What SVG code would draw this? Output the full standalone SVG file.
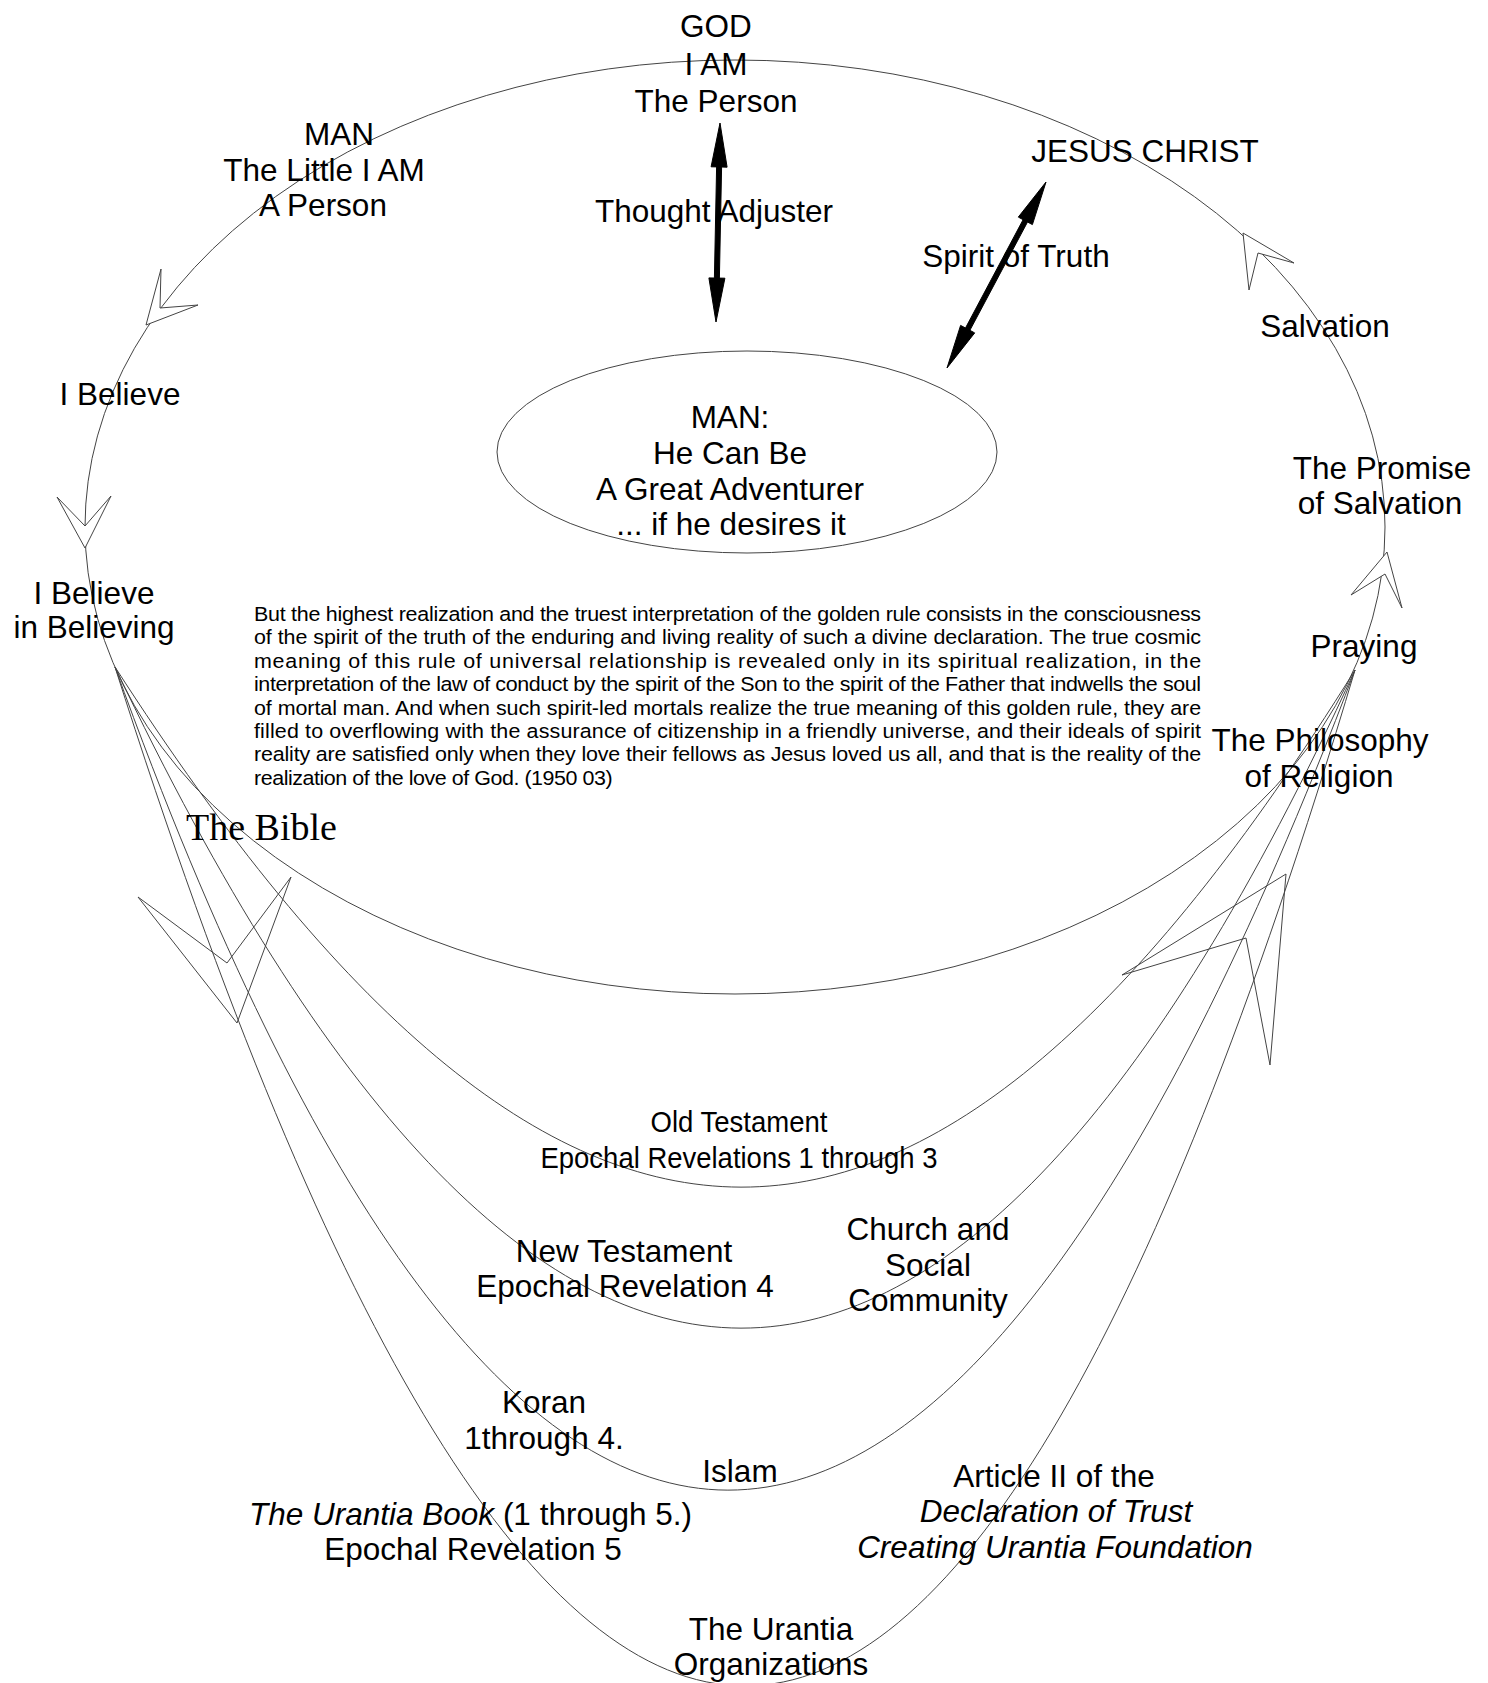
<svg xmlns="http://www.w3.org/2000/svg" width="1488" height="1683" viewBox="0 0 1488 1683">
<style>
  .bg { fill: #ffffff; }
  .thin { fill: none; stroke: #444444; stroke-width: 1; }
  .head { fill: #ffffff; stroke: #444444; stroke-width: 1; stroke-linejoin: miter; }
  .thick { fill: #000000; stroke: #000000; stroke-width: 1; }
  .lbl { font-family: "Liberation Sans", Arial, sans-serif; font-size: 31.5px; fill: #000000; text-anchor: middle; }
  .cond { font-family: "Liberation Sans", Arial, sans-serif; font-size: 29.5px; fill: #000000; text-anchor: middle; }
  .it { font-style: italic; }
  .serif { font-family: "Liberation Serif", "Times New Roman", serif; font-size: 38px; fill: #000000; }
  .para { font-family: "Liberation Sans", Arial, sans-serif; font-size: 19.5px; fill: #000000; }
</style>
<rect class="bg" x="0" y="0" width="1488" height="1683"/>

<g id="connectors">
  <!-- big outer cycle -->
  <ellipse id="cycle" class="thin" cx="735" cy="527" rx="650" ry="467"/>
  <!-- lower U curves -->
  <path id="curve-old-testament" class="thin" d="M115,667 C561,1360 925,1360 1355,670"/>
  <path id="curve-new-testament" class="thin" d="M115,667 C533,1548 953,1548 1355,670"/>
  <path id="curve-islam" class="thin" d="M115,667 C511,1764 940,1764 1355,670"/>
  <path id="curve-urantia" class="thin" d="M115,667 C546,2025 950,2025 1355,670"/>
  <!-- open arrowheads on the cycle -->
  <polygon class="head" points="161,269 146,325 198,305 160,308"/>
  <polygon class="head" points="57,497 85,548 111,496 85,526"/>
  <polygon class="head" points="1243,233 1249,290 1258,253 1294,263"/>
  <polygon class="head" points="1387,552 1351,595 1385,574 1402,608"/>
  <!-- big open arrowheads on the lower curves -->
  <polygon class="head" style="fill:none" points="138,897 237,1023 291,877 227,963"/>
  <polygon class="head" style="fill:none" points="1286,874 1122,975 1246,938 1270,1065"/>
  <!-- thick double arrows -->
  <polygon id="thought-adjuster-arrow" class="thick" points="720,123 727.1,167.2 721.6,167 719.4,278.1 724.9,278.2 716,322 708.9,277.9 714.4,278 716.6,166.9 711.1,166.8"/>
  <polygon id="spirit-of-truth-arrow" class="thick" points="1046,182 1032.4,224.6 1027.5,222 969.9,330.3 974.7,332.9 947,368 960.6,325.4 965.5,328 1023.1,219.7 1018.3,217.1"/>
</g>

<g id="node-god">
  <text class="lbl" x="716" y="37">GOD</text>
  <text class="lbl" x="716" y="74.5">I AM</text>
  <text class="lbl" x="716" y="112">The Person</text>
</g>
<g id="node-man-little">
  <text class="lbl" x="339" y="145">MAN</text>
  <text class="lbl" x="324" y="181">The Little I AM</text>
  <text class="lbl" x="323" y="216">A Person</text>
</g>
<g id="node-jesus">
  <text class="lbl" x="1145" y="162">JESUS CHRIST</text>
</g>
<g id="label-thought-adjuster">
  <text class="lbl" x="714" y="222">Thought Adjuster</text>
</g>
<g id="label-spirit-of-truth">
  <text class="lbl" x="1016" y="267">Spirit of Truth</text>
</g>
<g id="node-salvation">
  <text class="lbl" x="1325" y="337">Salvation</text>
</g>
<g id="node-i-believe">
  <text class="lbl" x="120" y="405">I Believe</text>
</g>
<g id="node-promise">
  <text class="lbl" x="1382" y="479">The Promise</text>
  <text class="lbl" x="1380" y="514">of Salvation</text>
</g>
<g id="node-believing">
  <text class="lbl" x="94" y="604">I Believe</text>
  <text class="lbl" x="94" y="638">in Believing</text>
</g>
<g id="node-praying">
  <text class="lbl" x="1364" y="657">Praying</text>
</g>
<g id="node-philosophy">
  <text class="lbl" x="1320" y="751">The Philosophy</text>
  <text class="lbl" x="1319" y="787">of Religion</text>
</g>
<g id="node-man-adventurer">
  <ellipse class="thin" cx="747" cy="452" rx="250" ry="101"/>
  <text class="lbl" x="730" y="428">MAN:</text>
  <text class="lbl" x="730" y="464">He Can Be</text>
  <text class="lbl" x="730" y="500">A Great Adventurer</text>
  <text class="lbl" x="731" y="535">... if he desires it</text>
</g>
<g id="quote" transform="translate(254,0) scale(1.1,1)">
  <text class="para" x="0" y="620.7" textLength="861" lengthAdjust="spacing">But the highest realization and the truest interpretation of the golden rule consists in the consciousness</text>
  <text class="para" x="0" y="644.2" textLength="861" lengthAdjust="spacing">of the spirit of the truth of the enduring and living reality of such a divine declaration. The true cosmic</text>
  <text class="para" x="0" y="667.6" textLength="861" lengthAdjust="spacing">meaning of this rule of universal relationship is revealed only in its spiritual realization, in the</text>
  <text class="para" x="0" y="691.1" textLength="861" lengthAdjust="spacing">interpretation of the law of conduct by the spirit of the Son to the spirit of the Father that indwells the soul</text>
  <text class="para" x="0" y="714.6" textLength="861" lengthAdjust="spacing">of mortal man. And when such spirit-led mortals realize the true meaning of this golden rule, they are</text>
  <text class="para" x="0" y="738.1" textLength="861" lengthAdjust="spacing">filled to overflowing with the assurance of citizenship in a friendly universe, and their ideals of spirit</text>
  <text class="para" x="0" y="761.5" textLength="861" lengthAdjust="spacing">reality are satisfied only when they love their fellows as Jesus loved us all, and that is the reality of the</text>
  <text class="para" x="0" y="785" textLength="326" lengthAdjust="spacing">realization of the love of God. (1950 03)</text>
</g>
<g id="node-bible">
  <text class="serif" x="186" y="840">The Bible</text>
</g>
<g id="node-old-testament">
  <text class="cond" x="739" y="1132" textLength="177" lengthAdjust="spacingAndGlyphs">Old Testament</text>
  <text class="cond" x="739" y="1168" textLength="397" lengthAdjust="spacingAndGlyphs">Epochal Revelations 1 through 3</text>
</g>
<g id="node-new-testament">
  <text class="lbl" x="624" y="1262">New Testament</text>
  <text class="lbl" x="625" y="1297">Epochal Revelation 4</text>
</g>
<g id="node-church">
  <text class="lbl" x="928" y="1240">Church and</text>
  <text class="lbl" x="928" y="1276">Social</text>
  <text class="lbl" x="928" y="1311">Community</text>
</g>
<g id="node-koran">
  <text class="lbl" x="544" y="1413">Koran</text>
  <text class="lbl" x="544" y="1449">1through 4.</text>
</g>
<g id="node-islam">
  <text class="lbl" x="740" y="1482">Islam</text>
</g>
<g id="node-urantia-book">
  <text class="lbl" x="249" y="1525" style="text-anchor:start"><tspan class="it">The Urantia Book</tspan> (1 through 5.)</text>
  <text class="lbl" x="473" y="1560">Epochal Revelation 5</text>
</g>
<g id="node-article">
  <text class="lbl" x="1054" y="1487">Article II of the</text>
  <text class="lbl it" x="1056" y="1522">Declaration of Trust</text>
  <text class="lbl it" x="1055" y="1558">Creating Urantia Foundation</text>
</g>
<g id="node-organizations">
  <text class="lbl" x="771" y="1640">The Urantia</text>
  <text class="lbl" x="771" y="1675">Organizations</text>
</g>
</svg>
